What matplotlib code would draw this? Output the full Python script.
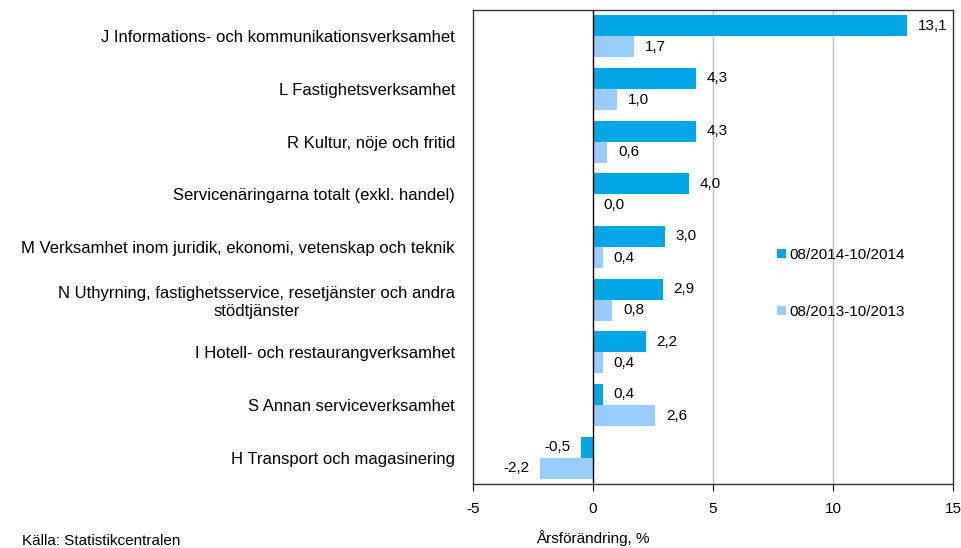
import matplotlib.pyplot as plt
import numpy as np
from matplotlib.patches import Patch

plt.rcParams['font.family'] = ['Liberation Sans', 'DejaVu Sans']

categories = [
    "J Informations- och kommunikationsverksamhet",
    "L Fastighetsverksamhet",
    "R Kultur, nöje och fritid",
    "Servicenäringarna totalt (exkl. handel)",
    "M Verksamhet inom juridik, ekonomi, vetenskap och teknik",
    "N Uthyrning, fastighetsservice, resetjänster och andra\nstödtjänster",
    "I Hotell- och restaurangverksamhet",
    "S Annan serviceverksamhet",
    "H Transport och magasinering",
]
series_2014 = [13.1, 4.3, 4.3, 4.0, 3.0, 2.9, 2.2, 0.4, -0.5]
series_2013 = [1.7, 1.0, 0.6, 0.0, 0.4, 0.8, 0.4, 2.6, -2.2]
legend_labels = ["08/2014-10/2014", "08/2013-10/2013"]
xticks = [-5, 0, 5, 10, 15]

dark = "#00A6E6"
light = "#99CCFF"

fig = plt.figure(figsize=(9.62, 5.48), dpi=100)
ax = fig.add_axes([0.4917, 0.1168, 0.4989, 0.865])

y = np.arange(len(categories))
h = 0.4
ax.barh(y - h / 2, series_2014, height=h, color=dark, edgecolor="none", zorder=3)
ax.barh(y + h / 2, series_2013, height=h, color=light, edgecolor="none", zorder=3)

def fmt(v):
    return f"{v:.1f}".replace(".", ",")

for yi, v in zip(y - h / 2, series_2014):
    off = 0.45 if v >= 0 else -0.45
    ax.text(v + off, yi, fmt(v), ha="left" if v >= 0 else "right",
            va="center", fontsize=11, zorder=4)
for yi, v in zip(y + h / 2, series_2013):
    off = 0.45 if v >= 0 else -0.45
    ax.text(v + off, yi, fmt(v), ha="left" if v >= 0 else "right",
            va="center", fontsize=11, zorder=4)

ax.set_xlim(-5, 15)
ax.set_ylim(len(categories) - 0.5, -0.5)
ax.set_xticks(xticks)
ax.set_xticklabels([str(t) for t in xticks], fontsize=11)
ax.set_yticks(y)
ax.set_yticklabels(categories, fontsize=12, multialignment="center")
ax.tick_params(axis="y", length=0, pad=13)
ax.tick_params(axis="x", length=5, direction="out", pad=8)

for xv in [5, 10]:
    ax.axvline(xv, color="#BFBFBF", lw=1, zorder=1)
ax.axvline(0, color="black", lw=1, zorder=5)

for s in ax.spines.values():
    s.set_color("#333333")
    s.set_linewidth(1)

handles = [Patch(facecolor=dark, edgecolor="none"),
           Patch(facecolor=light, edgecolor="none")]
ax.legend(handles, legend_labels, loc="upper left",
          bbox_to_anchor=(0.618, 0.515), frameon=False, fontsize=11,
          handlelength=0.55, handleheight=0.55, handletextpad=0.25,
          labelspacing=2.85, borderpad=0)

fig.text(593 / 962, 1 - 538 / 548, "Årsförändring, %", ha="center",
         va="center", fontsize=11)
fig.text(22 / 962, 1 - 541 / 548, "Källa: Statistikcentralen", ha="left",
         va="center", fontsize=11)

fig.savefig("out.png", dpi=100)
